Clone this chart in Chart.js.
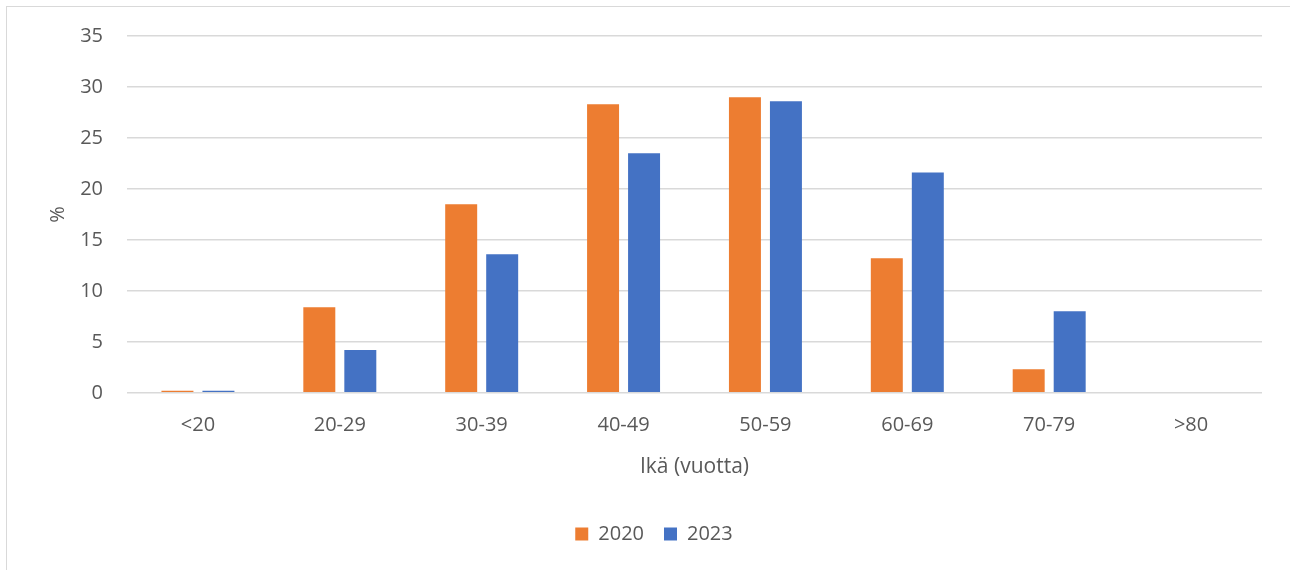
<!DOCTYPE html>
<html lang="fi">
<head>
<meta charset="utf-8">
<title>Ikäjakauma</title>
<script src="https://cdn.jsdelivr.net/npm/chart.js@4"></script>
<style>
    html, body { margin: 0; padding: 0; background: #fff; }
    #kehys {
        position: absolute; left: 6px; top: 6px; width: 1300px; height: 600px;
        border-top: 1px solid #d9d9d9; border-left: 1px solid #d9d9d9;
    }
    #alue { position: absolute; left: 0; top: 0; width: 1290px; height: 570px; }
</style>
</head>
<body>
<div id="kehys"></div>
<div id="alue"><canvas id="kaavio"></canvas></div>
<script>
// Ikäryhmät ja osuudet (%)
const ikaryhmat = ['<20', '20-29', '30-39', '40-49', '50-59', '60-69', '70-79', '>80'];
const arvot2020 = [0.2, 8.4, 18.5, 28.3, 29.0, 13.2, 2.3, 0];
const arvot2023 = [0.2, 4.2, 13.6, 23.5, 28.6, 21.6, 8.0, 0];

const tekstivari = '#595959';
const fontti = 'Open Sans, Noto Sans, sans-serif';

new Chart(document.getElementById('kaavio').getContext('2d'), {
    type: 'bar',
    data: {
        labels: ikaryhmat,
        datasets: [
            { label: '2020', data: arvot2020, backgroundColor: '#ED7D31' },
            { label: '2023', data: arvot2023, backgroundColor: '#4472C4' }
        ]
    },
    options: {
        responsive: true,
        maintainAspectRatio: false,
        animation: false,
        categoryPercentage: 0.578,
        barPercentage: 0.78,
        layout: { padding: { left: 46, right: 28, top: 35, bottom: 16 } },
        plugins: {
            tooltip: { enabled: false },
            legend: {
                position: 'bottom',
                labels: {
                    boxWidth: 13, boxHeight: 13, padding: 20,
                    color: tekstivari, font: { family: fontti, size: 20 }
                }
            }
        },
        scales: {
            x: {
                grid: { display: false },
                border: { display: false },
                ticks: { color: tekstivari, font: { family: fontti, size: 20 }, padding: 12 },
                title: {
                    display: true, text: 'Ikä (vuotta)', color: tekstivari,
                    font: { family: fontti, size: 21 }, padding: { top: 6, bottom: 24 }
                }
            },
            y: {
                min: 0, max: 35,
                afterFit: (akseli) => { akseli.width = 81; },
                ticks: { stepSize: 5, color: tekstivari, font: { family: fontti, size: 20 }, padding: 24 },
                grid: { color: '#d9d9d9', lineWidth: 1.5, drawTicks: false },
                border: { display: false },
                title: {
                    display: true, text: '%', color: tekstivari,
                    font: { family: fontti, size: 20 }, padding: { top: 0, bottom: 0 }
                }
            }
        }
    }
});
</script>
</body>
</html>
